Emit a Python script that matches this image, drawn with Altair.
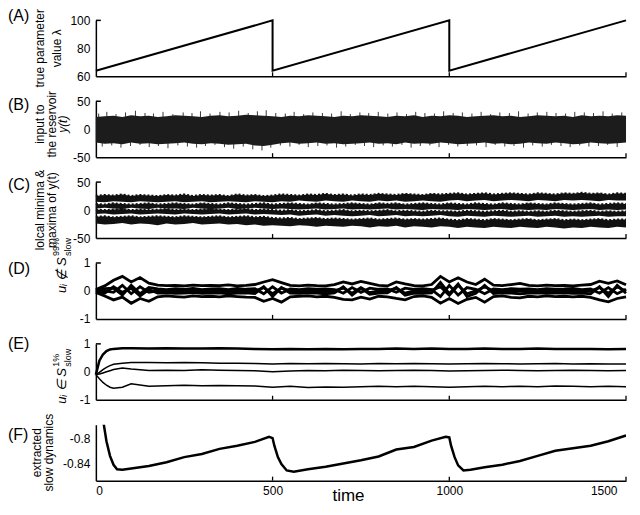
import altair as alt
import pandas as pd

FONT = "Liberation Sans"
W, H = 531, 56

# ---------------- data ----------------
T = [0, 25, 50, 75, 100, 125, 150, 175, 200, 225, 250, 275, 300, 325, 350, 375, 400, 425, 450, 475,
     500, 525, 550, 575, 600, 625, 650, 675, 700, 725, 750, 775, 800, 825, 850, 875, 900, 925, 950, 975,
     1000, 1025, 1050, 1075, 1100, 1125, 1150, 1175, 1200, 1225, 1250, 1275, 1300, 1325, 1350, 1375, 1400,
     1425, 1450, 1475, 1500]

# (A) true parameter
LAM_T = [0, 500, 500, 1000, 1000, 1500]
LAM_V = [64, 100, 64, 100, 64, 100]

# (B) input signal: dense band envelope + spikes
B_UP = [22, 23, 24, 22, 25, 23, 24, 22, 23, 25,
        24, 23, 22, 24, 25, 23, 24, 26, 25, 24,
        23, 22, 24, 23, 25, 24, 23, 22, 24, 23,
        25, 24, 23, 22, 24, 23, 25, 22, 24, 23,
        25, 24, 22, 23, 24, 25, 23, 24, 22, 23,
        25, 24, 23, 24, 22, 25, 23, 24, 23, 25,
        24]
B_LO = [-24, -26, -25, -27, -24, -26, -25, -27, -26, -25,
        -24, -26, -27, -25, -26, -28, -27, -26, -29, -30,
        -28, -25, -24, -26, -25, -24, -26, -25, -27, -26,
        -25, -24, -26, -25, -27, -24, -26, -25, -26, -24,
        -25, -27, -26, -25, -24, -26, -25, -27, -26, -24,
        -25, -26, -24, -25, -27, -26, -24, -25, -26, -25,
        -24]
SPK_UP_T = [8, 31, 57, 84, 112, 139, 163, 190, 218, 247, 272, 296, 323, 351, 377, 404, 431, 457, 482, 509,
            536, 561, 588, 614, 641, 667, 694, 720, 747, 772, 799, 826, 852, 879, 905, 931, 958, 984, 1011, 1037,
            1064, 1090, 1117, 1143, 1170, 1196, 1223, 1249, 1276, 1302, 1329, 1355, 1382, 1408, 1435, 1461, 1488]
SPK_UP_V = [28, 31, 27, 30, 33, 29, 28, 31, 27, 30, 29, 32, 28, 31, 30, 33, 29, 32, 34, 29,
            28, 31, 27, 30, 29, 28, 32, 27, 30, 29, 31, 28, 30, 27, 31, 29, 28, 32, 29, 30,
            28, 31, 27, 30, 29, 32, 28, 30, 31, 29, 28, 31, 30, 29, 32, 28, 30]
SPK_DN_T = [18, 45, 71, 98, 125, 151, 177, 204, 232, 259, 285, 310, 337, 364, 390, 417, 444, 470, 495, 522,
            549, 575, 601, 628, 654, 681, 707, 734, 760, 786, 813, 839, 866, 892, 918, 945, 971, 998, 1024, 1051,
            1077, 1104, 1130, 1157, 1183, 1210, 1236, 1263, 1289, 1316, 1342, 1369, 1395, 1422, 1448, 1475]
SPK_DN_V = [-31, -29, -33, -30, -28, -32, -30, -34, -29, -31, -33, -30, -28, -32, -35, -31, -36, -38, -33, -29,
            -31, -28, -32, -30, -29, -33, -31, -28, -30, -32, -29, -31, -28, -33, -30, -29, -32, -28, -31, -30,
            -29, -32, -28, -31, -30, -33, -29, -31, -28, -30, -32, -29, -31, -30, -28, -32]

# (C) local minima & maxima: four bands (upper / lower edge)
C1_HI = [25, 27, 26, 28, 25, 27, 26, 25, 27, 26, 28, 25, 27, 26, 27, 25, 28, 26, 27, 25,
         26, 28, 27, 26, 28, 27, 29, 27, 28, 26, 28, 27, 29, 28, 27, 29, 28, 27, 29, 28,
         29, 30, 28, 29, 30, 28, 29, 30, 29, 28, 30, 29, 28, 30, 29, 31, 29, 30, 28, 30, 29]
C1_LO = [15, 14, 16, 15, 14, 16, 15, 14, 15, 16, 14, 15, 16, 14, 15, 16, 15, 14, 16, 15,
         14, 16, 15, 17, 16, 15, 17, 16, 15, 17, 16, 15, 17, 16, 17, 15, 16, 17, 16, 15,
         17, 18, 16, 17, 18, 16, 17, 18, 17, 16, 18, 17, 16, 18, 17, 18, 17, 16, 18, 17, 17]
C2_HI = [11, 10, 12, 11, 10, 11, 12, 10, 11, 12, 11, 10, 12, 11, 10, 12, 11, 10, 11, 12,
         10, 11, 12, 11, 10, 12, 11, 10, 11, 12, 11, 10, 12, 11, 12, 10, 11, 12, 11, 10,
         12, 11, 10, 12, 11, 10, 12, 11, 10, 12, 11, 10, 12, 11, 10, 11, 12, 10, 11, 12, 11]
C2_LO = [3, 4, 3, 2, 4, 3, 2, 4, 3, 3, 2, 4, 3, 2, 3, 4, 2, 3, 4, 3,
         2, 3, 2, 1, 2, 3, 1, 2, 3, 1, 2, 1, 2, 3, 1, 2, 1, 0, 2, 1,
         1, 0, 2, 1, 0, 1, 2, 0, 1, 0, 1, 0, 2, 1, 0, 1, 2, 0, 1, 0, 1]
C3_HI = [1, 0, 1, 2, 0, 1, 0, 1, 2, 0, 1, 0, 1, 2, 1, 0, 1, 2, 0, 1,
         0, -1, 0, -2, -1, 0, -2, -1, 0, -2, -1, -2, -1, 0, -2, -1, -2, -3, -1, -2,
         -2, -3, -1, -2, -3, -2, -1, -3, -2, -3, -2, -3, -1, -2, -3, -2, -1, -3, -2, -3, -2]
C3_LO = [-7, -6, -8, -7, -6, -8, -7, -6, -7, -8, -6, -7, -8, -7, -6, -8, -7, -6, -8, -7,
         -8, -9, -8, -10, -9, -8, -10, -9, -10, -11, -10, -9, -11, -10, -9, -11, -10, -11, -10, -9,
         -11, -12, -10, -11, -12, -10, -11, -12, -11, -10, -12, -11, -10, -12, -11, -12, -11, -10, -12, -11, -11]
C4_HI = [-12, -11, -13, -12, -11, -13, -12, -11, -12, -13, -11, -12, -13, -12, -11, -13, -12, -11, -13, -12,
         -14, -15, -14, -16, -15, -14, -16, -15, -16, -17, -16, -15, -17, -16, -15, -17, -16, -17, -16, -15,
         -17, -18, -16, -17, -18, -16, -17, -18, -17, -16, -18, -17, -16, -18, -17, -18, -17, -16, -18, -17, -17]
C4_LO = [-24, -26, -25, -23, -26, -24, -25, -27, -24, -26, -25, -23, -26, -25, -24, -26, -25, -27, -26, -28,
         -27, -28, -29, -27, -28, -30, -28, -29, -30, -28, -29, -31, -29, -30, -28, -31, -29, -30, -31, -29,
         -30, -32, -30, -31, -32, -30, -31, -32, -30, -31, -32, -30, -31, -33, -31, -32, -30, -31, -32, -30, -31]

# (D) components outside S_slow
D1 = [0.05, 0.18, 0.38, 0.52, 0.32, 0.48, 0.28, 0.21, 0.19, 0.2,
      0.18, 0.21, 0.19, 0.2, 0.19, 0.22, 0.18, 0.2, 0.23, 0.32,
      0.4, 0.3, 0.2, 0.18, 0.21, 0.19, 0.18, 0.23, 0.32, 0.25,
      0.34, 0.27, 0.2, 0.18, 0.32, 0.25, 0.19, 0.18, 0.23, 0.52,
      0.32, 0.47, 0.32, 0.23, 0.42, 0.21, 0.19, 0.23, 0.27, 0.2,
      0.18, 0.21, 0.19, 0.2, 0.18, 0.21, 0.23, 0.35, 0.27, 0.36, 0.22]
D2 = [0.0, 0.08, 0.1, -0.15, 0.2, -0.1, 0.12, 0.07, 0.05, 0.08,
      0.06, 0.09, 0.05, 0.07, 0.08, 0.05, 0.09, 0.06, 0.08, -0.1,
      0.15, -0.08, 0.07, 0.05, 0.08, 0.06, 0.07, 0.05, -0.08, 0.12,
      -0.05, 0.1, 0.06, 0.07, -0.05, 0.1, 0.06, 0.08, 0.05, -0.2,
      0.2, -0.15, 0.12, 0.06, -0.1, 0.07, 0.05, 0.08, 0.06, 0.07,
      0.05, 0.08, 0.06, 0.07, 0.09, 0.05, 0.07, -0.08, 0.12, -0.1, 0.06]
D3 = [0.0, 0.0, -0.05, 0.2, -0.1, 0.15, -0.05, 0.0, 0.01, -0.01,
      0.0, 0.02, -0.01, 0.0, 0.01, -0.02, 0.0, 0.01, 0.0, 0.12,
      -0.1, 0.1, 0.0, -0.01, 0.01, 0.0, -0.02, 0.01, 0.1, -0.08,
      0.12, -0.06, 0.0, 0.01, 0.1, -0.08, 0.0, -0.01, 0.02, 0.15,
      -0.15, 0.2, -0.1, 0.0, 0.15, 0.0, 0.01, -0.01, 0.0, 0.02,
      -0.01, 0.0, 0.01, -0.02, 0.0, 0.01, 0.0, 0.12, -0.08, 0.15, 0.0]
D4 = [0.0, -0.08, 0.15, -0.05, 0.1, -0.18, 0.05, -0.08, -0.07, -0.09,
      -0.08, -0.06, -0.09, -0.08, -0.07, -0.1, -0.08, -0.07, -0.09, 0.15,
      -0.2, 0.12, -0.08, -0.09, -0.07, -0.08, -0.1, -0.07, 0.15, -0.15,
      0.1, -0.12, -0.08, -0.07, 0.12, -0.15, -0.08, -0.09, -0.07, 0.3,
      -0.1, 0.25, -0.2, -0.08, 0.2, -0.09, -0.07, -0.08, -0.1, -0.08,
      -0.07, -0.09, -0.08, -0.07, -0.09, -0.08, -0.1, 0.15, -0.2, 0.2, -0.08]
D5 = [-0.05, -0.18, -0.32, -0.22, -0.44, -0.27, -0.37, -0.21, -0.18, -0.2,
      -0.22, -0.18, -0.2, -0.19, -0.21, -0.18, -0.2, -0.22, -0.23, -0.37,
      -0.27, -0.4, -0.21, -0.19, -0.18, -0.21, -0.19, -0.23, -0.3, -0.32,
      -0.22, -0.29, -0.19, -0.21, -0.27, -0.32, -0.2, -0.18, -0.23, -0.44,
      -0.27, -0.45, -0.3, -0.23, -0.4, -0.2, -0.18, -0.23, -0.25, -0.19,
      -0.21, -0.18, -0.2, -0.19, -0.21, -0.19, -0.23, -0.32, -0.39, -0.27, -0.21]

# (E) components inside S_slow
TE = [0, 10, 20, 30, 40, 50, 75, 100, 150, 200, 250, 300, 350, 400, 450, 500, 550, 600, 650, 700,
      750, 800, 850, 900, 950, 1000, 1050, 1100, 1150, 1200, 1250, 1300, 1350, 1400, 1450, 1500]
E1 = [-0.1, 0.4, 0.62, 0.74, 0.8, 0.82, 0.84, 0.84, 0.83, 0.84, 0.83, 0.83, 0.84, 0.83, 0.82, 0.81,
      0.82, 0.81, 0.82, 0.81, 0.82, 0.82, 0.83, 0.82, 0.83, 0.82, 0.82, 0.83, 0.82, 0.82, 0.83, 0.82,
      0.82, 0.82, 0.81, 0.82]
E2 = [-0.1, -0.02, 0.08, 0.16, 0.22, 0.27, 0.31, 0.33, 0.33, 0.32, 0.33, 0.32, 0.31, 0.31, 0.3, 0.28,
      0.3, 0.29, 0.3, 0.29, 0.28, 0.3, 0.29, 0.3, 0.29, 0.28, 0.29, 0.3, 0.29, 0.28, 0.29, 0.3,
      0.28, 0.29, 0.28, 0.28]
E3 = [-0.1, -0.08, -0.04, 0.0, 0.04, 0.08, 0.14, 0.1, 0.05, 0.06, 0.05, 0.07, 0.06, 0.05, 0.04, 0.0,
      0.03, 0.05, 0.04, 0.06, 0.05, 0.04, 0.05, 0.06, 0.05, 0.03, 0.04, 0.05, 0.06, 0.05, 0.04, 0.05,
      0.06, 0.05, 0.04, 0.05]
E4 = [-0.1, -0.25, -0.38, -0.48, -0.55, -0.59, -0.55, -0.43, -0.52, -0.5, -0.48, -0.5, -0.49, -0.5, -0.51, -0.55,
      -0.52, -0.56, -0.54, -0.55, -0.53, -0.52, -0.53, -0.52, -0.53, -0.55, -0.53, -0.52, -0.53, -0.52, -0.53, -0.51,
      -0.52, -0.53, -0.52, -0.53]

# (F) extracted slow dynamics
TF = [20, 30, 40, 50, 60, 75, 100, 150, 200, 250, 300, 350, 400, 450, 490, 500, 505, 515, 525, 540,
      560, 600, 650, 700, 750, 800, 850, 900, 950, 990, 1000, 1005, 1015, 1025, 1040, 1060, 1100, 1150,
      1200, 1250, 1300, 1350, 1400, 1450, 1500]
FV = [-0.770, -0.805, -0.828, -0.842, -0.849, -0.850, -0.848, -0.844, -0.838, -0.830, -0.825, -0.817,
      -0.812, -0.806, -0.798, -0.800, -0.812, -0.830, -0.841, -0.851, -0.853, -0.849, -0.845, -0.840,
      -0.835, -0.829, -0.818, -0.814, -0.804, -0.798, -0.799, -0.812, -0.830, -0.843, -0.851, -0.850,
      -0.846, -0.842, -0.836, -0.828, -0.820, -0.816, -0.812, -0.805, -0.796]

X_TICKS = [500, 1000, 1500]
X_LABELS = [0, 500, 1000, 1500]

for arr in [B_UP, B_LO, C1_HI, C1_LO, C2_HI, C2_LO, C3_HI, C3_LO, C4_HI, C4_LO, D1, D2, D3, D4, D5]:
    assert len(arr) == len(T), len(arr)
for arr in [E1, E2, E3, E4]:
    assert len(arr) == len(TE)
assert len(FV) == len(TF)
assert len(SPK_UP_T) == len(SPK_UP_V) and len(SPK_DN_T) == len(SPK_DN_V)

# ---------------- helpers ----------------
LABEL_EXPR = "datum.value < 0 ? '-' + format(-datum.value, '~g') : format(datum.value, '~g')"
xscale = alt.Scale(domain=[0, 1500], nice=False, zero=False)


def xenc(bottom=False):
    if bottom:
        ax = alt.Axis(values=X_LABELS, title=None, ticks=False, labelPadding=5,
                      labelExpr="format(datum.value, 'd')",
                      labelOffset=alt.ExprRef(expr="datum.value == 1500 ? -9 : 0"))
    else:
        ax = alt.Axis(values=X_LABELS, labels=False, ticks=False, title=None)
    return alt.X("t:Q", scale=xscale, axis=ax)


def yenc(field, domain, values):
    return alt.Y(f"{field}:Q", scale=alt.Scale(domain=domain, nice=False, zero=False),
                 axis=alt.Axis(values=values, title=None, ticks=False, labelPadding=6,
                               labelExpr=LABEL_EXPR))


def txt(s, x, y, size=12, angle=270, align="center", style="normal", baseline="middle"):
    return alt.Chart(pd.DataFrame({"s": [s]})).mark_text(
        angle=angle, align=align, baseline=baseline, fontSize=size, font=FONT,
        fontStyle=style, color="black").encode(text="s:N", x=alt.value(x), y=alt.value(y))


def panel(data_layers, letter, letter_y, titles, bottom=False, top_tick=True):
    extra = [alt.Chart(pd.DataFrame({"t": X_TICKS})).mark_rule(color="black", strokeWidth=1.3)
             .encode(x=xenc(bottom), y=alt.value(H - 4), y2=alt.value(H))]
    if top_tick:
        extra.append(alt.Chart(pd.DataFrame({"s": [0]})).mark_rule(color="black", strokeWidth=1.5)
                     .encode(x=alt.value(0), x2=alt.value(5), y=alt.value(0)))
    extra.append(txt(letter, -88, letter_y, size=16, angle=0, align="left"))
    return alt.layer(*data_layers, *extra, *titles).properties(width=W, height=H)


# ---------------- panels ----------------
dfA = pd.DataFrame({"t": LAM_T, "v": LAM_V, "i": list(range(len(LAM_T)))})
pA = panel([
    alt.Chart(dfA).mark_line(color="black", strokeWidth=2).encode(
        x=xenc(), y=yenc("v", [60, 100], [60, 80, 100]), order="i:Q")
], "(A)", -4, [txt("true parameter", -56, H / 2), txt("value λ", -39, H / 2)])

dfB = pd.DataFrame({"t": T, "hi": B_UP, "lo": B_LO})
dfS = pd.DataFrame({"t": SPK_UP_T + SPK_DN_T, "hi": SPK_UP_V + SPK_DN_V,
                    "lo": [0] * (len(SPK_UP_T) + len(SPK_DN_T))})
yB = yenc("hi", [-50, 50], [-50, 0, 50])
pB = panel([
    alt.Chart(dfS).mark_rule(color="#3a3a3a", strokeWidth=1).encode(x=xenc(), y=yB, y2="lo:Q"),
    alt.Chart(dfB).mark_area(color="#1c1c1c").encode(x=xenc(), y=yB, y2="lo:Q"),
], "(B)", 4, [txt("input to", -56, H / 2 - 5), txt("the reservoir", -44, H / 2 - 5),
              txt("y(t)", -33, H / 2 - 5, style="italic")])

rowsC = []
for name, hi, lo in [("c1", C1_HI, C1_LO), ("c2", C2_HI, C2_LO), ("c3", C3_HI, C3_LO), ("c4", C4_HI, C4_LO)]:
    for t, a, b in zip(T, hi, lo):
        rowsC.append({"t": t, "hi": a, "lo": b, "band": name})
dfC = pd.DataFrame(rowsC)
yC = yenc("hi", [-50, 50], [-50, 0, 50])
pC = panel([
    alt.Chart(dfC).mark_area(color="#111111").encode(x=xenc(), y=yC, y2="lo:Q", detail="band:N"),
    alt.Chart(dfC).mark_line(color="#111111", strokeWidth=2, strokeDash=[2, 2]).encode(
        x=xenc(), y=yC, detail="band:N"),
], "(C)", 3, [txt("lolcal minima &", -56, H / 2), txt("maxima of y(t)", -44, H / 2)])

rowsD = []
for name, arr in [("d1", D1), ("d2", D2), ("d3", D3), ("d4", D4), ("d5", D5)]:
    for t, v in zip(T, arr):
        rowsD.append({"t": t, "v": v, "k": name})
dfD = pd.DataFrame(rowsD)
pD = panel([
    alt.Chart(dfD).mark_line(color="black", strokeWidth=2.8).encode(
        x=xenc(), y=yenc("v", [-1, 1], [-1, 0, 1]), detail="k:N")
], "(D)", 6, [txt("uᵢ ∉ S", -34, 30, size=13, align="left", style="italic"),
              txt("99%", -40, -7, size=9, align="left"),
              txt("slow", -28, -7, size=9, align="left")])

rowsE = []
for name, arr in [("e1", E1), ("e2", E2), ("e3", E3), ("e4", E4)]:
    for t, v in zip(TE, arr):
        rowsE.append({"t": t, "v": v, "k": name})
dfE = pd.DataFrame(rowsE)
yE = yenc("v", [-1, 1], [-1, 0, 1])
pE = panel([
    alt.Chart(dfE[dfE.k != "e1"]).mark_line(color="black", strokeWidth=1.5).encode(
        x=xenc(), y=yE, detail="k:N"),
    alt.Chart(dfE[dfE.k == "e1"]).mark_line(color="black", strokeWidth=2.5).encode(x=xenc(), y=yE),
], "(E)", 0, [txt("uᵢ ∈ S", -34, 60, size=13, align="left", style="italic"),
              txt("1%", -40, 23, size=9, align="left"),
              txt("slow", -28, 23, size=9, align="left")])

dfF = pd.DataFrame({"t": TF, "v": FV})
pF = panel([
    alt.Chart(dfF).mark_line(color="black", strokeWidth=2.5, clip=True).encode(
        x=xenc(True), y=alt.Y("v:Q", scale=alt.Scale(domain=[-0.867, -0.779], nice=False, zero=False),
                              axis=alt.Axis(values=[-0.84, -0.8], title=None, ticks=False, labelPadding=6,
                                            labelExpr=LABEL_EXPR)))
], "(F)", 10, [txt("extracted", -59, H / 2), txt("slow dynamics", -47, H / 2),
               txt("time", 253, H + 20, size=17, angle=0, baseline="alphabetic")],
    bottom=True, top_tick=False)

chart = alt.vconcat(pA, pB, pC, pD, pE, pF, spacing=25, bounds="flush", padding=0).configure_view(
    stroke=None).configure_axis(domainColor="black", domainWidth=1.5, labelColor="black", labelFont=FONT,
                                labelFontSize=12, grid=False)

chart.save("out.html", embed_options={"renderer": "svg", "actions": False})
